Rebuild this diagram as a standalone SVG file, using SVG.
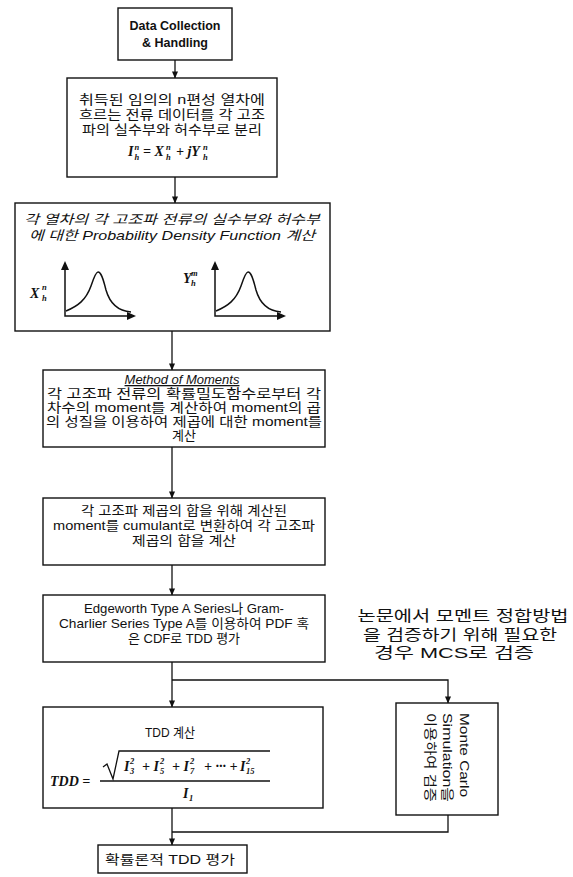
<svg xmlns="http://www.w3.org/2000/svg" width="573" height="877" viewBox="0 0 573 877">
<defs>
<marker id="ah" viewBox="0 0 8 8" refX="7.5" refY="4" markerWidth="7" markerHeight="7" markerUnits="userSpaceOnUse" orient="auto"><path d="M0,0.5 L8,4 L0,7.5 z" fill="#111"/></marker>
<style>
.box{fill:#fff;stroke:#111;stroke-width:1.4}
.ln{fill:none;stroke:#111;stroke-width:1.3}
.ax{fill:none;stroke:#111;stroke-width:1.5}
.t{font-family:"Liberation Sans","Noto Sans CJK KR",sans-serif;font-size:13px;fill:#111;text-anchor:middle}
.ti{font-style:italic}
.b{font-weight:bold;font-size:12.5px}
.r{font-size:15px}
.f{font-family:"Liberation Serif",serif;font-style:italic;font-weight:bold;font-size:14px;fill:#111}
.s{font-family:"Liberation Serif",serif;font-style:italic;font-weight:bold;font-size:8.5px;fill:#111}
</style>
</defs>

<g id="connectors">
<line class="ln" x1="175" y1="60" x2="175" y2="78" marker-end="url(#ah)"/>
<line class="ln" x1="175" y1="177" x2="175" y2="203" marker-end="url(#ah)"/>
<line class="ln" x1="172" y1="331" x2="172" y2="370" marker-end="url(#ah)"/>
<line class="ln" x1="172" y1="447" x2="172" y2="498" marker-end="url(#ah)"/>
<line class="ln" x1="172" y1="565" x2="172" y2="595" marker-end="url(#ah)"/>
<line class="ln" x1="172" y1="662" x2="172" y2="707" marker-end="url(#ah)"/>
<polyline class="ln" points="172,680 448,680 448,703" marker-end="url(#ah)"/>
<line class="ln" x1="172" y1="808" x2="172" y2="845" marker-end="url(#ah)"/>
<polyline class="ln" points="448,815 448,832 172,832"/>
</g>

<g id="n1">
<rect class="box" x="118" y="8" width="114" height="52"/>
<text class="t b" x="175" y="30">Data Collection</text>
<text class="t b" x="175" y="47">&amp; Handling</text>
</g>

<g id="n2">
<rect class="box" x="67" y="78" width="210" height="99"/>
<text class="t" x="172" y="104" textLength="186" lengthAdjust="spacingAndGlyphs">취득된 임의의 n편성 열차에</text>
<text class="t" x="172" y="119" textLength="186" lengthAdjust="spacingAndGlyphs">흐르는 전류 데이터를 각 고조</text>
<text class="t" x="172" y="134" textLength="180" lengthAdjust="spacingAndGlyphs">파의 실수부와 허수부로 분리</text>
<text class="f" x="128" y="156" font-size="15">I</text>
<text class="s" x="134.5" y="150">n</text><text class="s" x="134.5" y="160">h</text>
<text class="f" x="143" y="156" font-size="15">= X</text>
<text class="s" x="166" y="150">n</text><text class="s" x="166" y="160">h</text>
<text class="f" x="176" y="156" font-size="15">+ jY</text>
<text class="s" x="203" y="150">n</text><text class="s" x="203" y="160">h</text>
</g>

<g id="n3">
<rect class="box" x="15" y="203" width="315" height="128"/>
<text class="t ti" x="172" y="224" textLength="296" lengthAdjust="spacingAndGlyphs">각 열차의 각 고조파 전류의 실수부와 허수부</text>
<text class="t ti" x="172" y="240" textLength="286" lengthAdjust="spacingAndGlyphs">에 대한 Probability Density Function 계산</text>
<text class="f" x="30" y="298" font-size="16">X</text>
<text class="s" x="42" y="290">n</text><text class="s" x="42" y="301">h</text>
<polyline class="ax" points="65,263 65,316 134,316"/>
<path d="M61,270 L65,261 L69,270 z M127,312 L136,316 L127,320 z" fill="#111"/>
<path class="ax" d="M66,311 C78,306 86,300 91,286 C94,277 96,272 98,272 C101,272 103,278 106,290 C110,304 118,311 131,312"/>
<text class="f" x="183" y="283" font-size="12">Y</text>
<text class="s" x="191" y="276" font-size="7">m</text><text class="s" x="191" y="286" font-size="7">h</text>
<polyline class="ax" points="215,263 215,316 284,316"/>
<path d="M211,270 L215,261 L219,270 z M277,312 L286,316 L277,320 z" fill="#111"/>
<path class="ax" d="M216,311 C228,306 236,300 241,286 C244,277 246,272 248,272 C251,272 253,278 256,290 C260,304 268,311 281,312"/>
</g>

<g id="n4">
<rect class="box" x="43" y="370" width="282" height="77"/>
<text class="t ti" x="182" y="384" font-size="12.5" text-decoration="underline">Method of Moments</text>
<text class="t" x="184" y="398" font-size="12" textLength="274" lengthAdjust="spacingAndGlyphs">각 고조파 전류의 확률밀도함수로부터 각</text>
<text class="t" x="184" y="412" font-size="12" textLength="274" lengthAdjust="spacingAndGlyphs">차수의 moment를 계산하여 moment의 곱</text>
<text class="t" x="184" y="426" font-size="12" textLength="276" lengthAdjust="spacingAndGlyphs">의 성질을 이용하여 제곱에 대한 moment를</text>
<text class="t" x="184" y="440" font-size="12">계산</text>
</g>

<g id="n5">
<rect class="box" x="43" y="498" width="282" height="67"/>
<text class="t" x="184" y="515" textLength="206" lengthAdjust="spacingAndGlyphs">각 고조파 제곱의 합을 위해 계산된</text>
<text class="t" x="184" y="530" textLength="262" lengthAdjust="spacingAndGlyphs">moment를 cumulant로 변환하여 각 고조파</text>
<text class="t" x="184" y="545" textLength="104" lengthAdjust="spacingAndGlyphs">제곱의 합을 계산</text>
</g>

<g id="n6">
<rect class="box" x="43" y="595" width="282" height="67"/>
<text class="t" x="184" y="613" textLength="200" lengthAdjust="spacingAndGlyphs">Edgeworth Type A Series나 Gram-</text>
<text class="t" x="184" y="628" textLength="250" lengthAdjust="spacingAndGlyphs">Charlier Series Type A를 이용하여 PDF 혹</text>
<text class="t" x="184" y="643">은 CDF로 TDD 평가</text>
</g>

<g id="note">
<text class="t r" x="463" y="621" textLength="211" lengthAdjust="spacingAndGlyphs">논문에서 모멘트 정합방법</text>
<text class="t r" x="460" y="640" textLength="194" lengthAdjust="spacingAndGlyphs">을 검증하기 위해 필요한</text>
<text class="t r" x="454" y="658" textLength="160" lengthAdjust="spacingAndGlyphs">경우 MCS로 검증</text>
</g>

<g id="n7">
<rect class="box" x="43" y="707" width="280" height="101"/>
<text class="t" x="145" y="737" style="text-anchor:start" textLength="50" lengthAdjust="spacingAndGlyphs">TDD 계산</text>
<text class="f" x="50" y="786">TDD =</text>
<path class="ln" d="M103,767 L107,764 L113,779 L119,751 L270,751"/>
<text class="f" x="124" y="771" font-size="13">I</text><text class="s" x="130" y="764">2</text><text class="s" x="130" y="774">3</text>
<text class="f" x="142" y="771" font-size="13">+ I</text><text class="s" x="160" y="764">2</text><text class="s" x="160" y="774">5</text>
<text class="f" x="172" y="771" font-size="13">+ I</text><text class="s" x="190" y="764">2</text><text class="s" x="190" y="774">7</text>
<text class="f" x="204" y="771" font-size="13">+ ··· +</text>
<text class="f" x="240" y="771" font-size="13">I</text><text class="s" x="246" y="764">2</text><text class="s" x="246" y="774">15</text>
<line class="ln" x1="100" y1="781" x2="270" y2="781"/>
<text class="f" x="183" y="798" font-size="13">I</text><text class="s" x="189" y="801">1</text>
</g>

<g id="n8">
<rect class="box" x="396" y="703" width="102" height="112"/>
<text class="t" transform="translate(460,713) rotate(90)" style="text-anchor:start" textLength="84" lengthAdjust="spacingAndGlyphs">Monte Carlo</text>
<text class="t" transform="translate(443,713) rotate(90)" style="text-anchor:start" textLength="89" lengthAdjust="spacingAndGlyphs">Simulation을</text>
<text class="t" transform="translate(426,713) rotate(90)" style="text-anchor:start" textLength="89" lengthAdjust="spacingAndGlyphs">이용하여 검증</text>
</g>

<g id="n9">
<rect class="box" x="98" y="845" width="149" height="28"/>
<text class="t" x="170" y="864" textLength="130" lengthAdjust="spacingAndGlyphs">확률론적 TDD 평가</text>
</g>
</svg>
